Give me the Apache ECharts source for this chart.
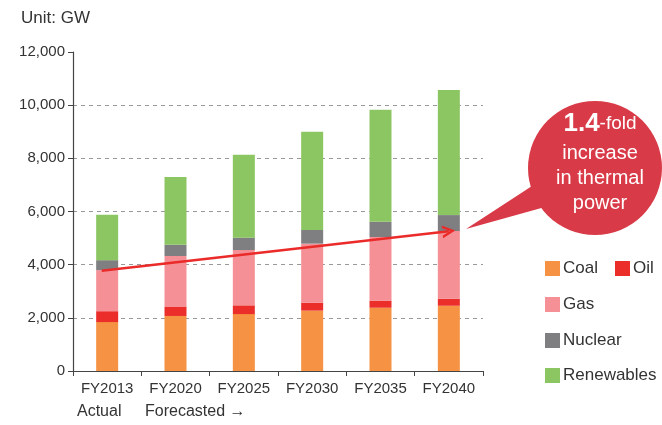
<!DOCTYPE html>
<html>
<head>
<meta charset="utf-8">
<title>Capacity outlook</title>
<script src="https://cdn.jsdelivr.net/npm/echarts@6/dist/echarts.min.js"></script>
<style>
  html, body { margin: 0; padding: 0; background: #fff; }
  #main { width: 662px; height: 425px; }
</style>
</head>
<body>
<div id="main"></div>
<script>
// values, in GW
var years = ["FY2013", "FY2020", "FY2025", "FY2030", "FY2035", "FY2040"];
var coal = [1840, 2070, 2140, 2270, 2380, 2455];
var oil = [410, 340, 330, 300, 265, 265];
var gas = [1545, 1915, 2080, 2220, 2395, 2545];
var nuclear = [375, 425, 465, 515, 575, 600];
var renewables = [1705, 2545, 3120, 3695, 4210, 4710];
var yTicks = [0, 2000, 4000, 6000, 8000, 10000, 12000];
// thermal trend arrow, [category position, GW]
var thermalArrow = [[-0.08, 3770], [5.0, 5260]];

var fontFamily = '"Liberation Sans", Helvetica, Arial, sans-serif';
var textColor = "#333";

var chartDom = document.getElementById("main");
var myChart = echarts.init(chartDom);
var option;

function barSeries(name, data, color) {
  return {
    name: name,
    type: "bar",
    stack: "total",
    data: data,
    barWidth: 22,
    itemStyle: { color: color },
    emphasis: { disabled: true }
  };
}

var series = [
  barSeries("Coal", coal, "#f69243"),
  barSeries("Oil", oil, "#ec2e2b"),
  barSeries("Gas", gas, "#f59196"),
  barSeries("Nuclear", nuclear, "#7f7f82"),
  barSeries("Renewables", renewables, "#8cc662"),
  {
    // invisible carrier for the arrow
    type: "line",
    xAxisIndex: 1,
    data: thermalArrow,
    showSymbol: false,
    lineStyle: { opacity: 0 },
    silent: true,
    z: 5,
    markLine: {
      silent: true,
      symbol: ["none", "path://M5,0 L10,10 L7.8,10 L5,4 L2.2,10 L0,10 Z"],
      symbolSize: [13, 13],
      label: { show: false },
      lineStyle: { color: "#ea2b29", width: 2.5, type: "solid" },
      data: [[{ coord: thermalArrow[0] }, { coord: thermalArrow[1] }]]
    }
  }
];

function legendAt(name, left, top) {
  return {
    data: [name],
    left: left,
    top: top,
    icon: "rect",
    itemWidth: 15,
    itemHeight: 15,
    selectedMode: false,
    textStyle: { color: textColor, fontSize: 17, fontFamily: fontFamily, padding: [0, 0, 0, -2] }
  };
}

option = {
  animation: false,
  grid: { left: 73, right: 179, top: 52, bottom: 54 },
  legend: [
    legendAt("Coal", 540, 255),
    legendAt("Oil", 610, 255),
    legendAt("Gas", 540, 291),
    legendAt("Nuclear", 540, 327),
    legendAt("Renewables", 540, 362)
  ],
  xAxis: [
    {
      type: "category",
      data: years,
      axisLine: { lineStyle: { color: "#444", width: 1.2 } },
      axisTick: { show: true, length: 5, lineStyle: { color: "#444" } },
      axisLabel: { color: textColor, fontSize: 15, fontFamily: fontFamily, margin: 10 }
    },
    {
      type: "value",
      min: -0.5,
      max: 5.5,
      show: false
    }
  ],
  yAxis: {
    type: "value",
    min: yTicks[0],
    max: yTicks[yTicks.length - 1],
    interval: 2000,
    axisLine: { show: true, onZero: false, lineStyle: { color: "#444", width: 1.2 } },
    axisTick: { show: true, length: 5, lineStyle: { color: "#444" } },
    axisLabel: {
      color: textColor,
      fontSize: 15,
      fontFamily: fontFamily,
      margin: 8,
      formatter: function (v) { return v.toLocaleString("en-US"); }
    },
    splitLine: {
      show: true,
      showMinLine: false,
      showMaxLine: false,
      lineStyle: { color: "#999", type: [4, 4], width: 1 }
    }
  },
  graphic: [
    {
      type: "text",
      left: 21,
      top: 10,
      style: { text: "Unit: GW", fill: textColor, fontSize: 17, fontFamily: fontFamily }
    },
    {
      type: "text",
      left: 77,
      top: 404,
      style: { text: "Actual", fill: textColor, fontSize: 16, fontFamily: fontFamily }
    },
    {
      type: "text",
      left: 145,
      top: 404,
      style: { text: "Forecasted \u2192", fill: textColor, fontSize: 16, fontFamily: fontFamily }
    },
    {
      type: "polygon",
      shape: { points: [[466, 229], [532, 186], [545, 207]] },
      style: { fill: "#d93a47" },
      z: 10
    },
    {
      type: "circle",
      shape: { cx: 595, cy: 168, r: 67 },
      style: { fill: "#d93a47" },
      z: 10
    },
    {
      type: "text",
      x: 600,
      y: 124,
      z: 11,
      style: {
        text: "{a|1.4}{b|-fold}",
        align: "center",
        verticalAlign: "middle",
        fill: "#fff",
        fontFamily: fontFamily,
        rich: {
          a: { fontSize: 26, fontWeight: "bold", fill: "#fff", fontFamily: fontFamily },
          b: { fontSize: 19, fill: "#fff", fontFamily: fontFamily }
        }
      }
    },
    {
      type: "text",
      x: 600,
      y: 178,
      z: 11,
      style: {
        text: "increase\nin thermal\npower",
        align: "center",
        verticalAlign: "middle",
        lineHeight: 25,
        fill: "#fff",
        fontSize: 20,
        fontFamily: fontFamily
      }
    }
  ],
  series: series
};

option && myChart.setOption(option);
</script>
</body>
</html>
